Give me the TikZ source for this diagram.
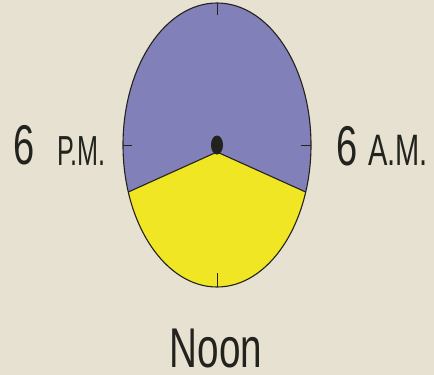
\documentclass[tikz,border=0pt]{standalone}
\usepackage{fontspec}
\setmainfont{Liberation Sans}
\usepackage{graphicx}
\definecolor{bg}{RGB}{231,225,210}
\definecolor{night}{RGB}{130,128,185}
\definecolor{day}{RGB}{240,230,35}
\definecolor{ink}{RGB}{35,35,30}
\tikzset{
  outline/.style={draw=ink, line width=1.1pt},
  tick/.style={draw=ink, line width=0.8pt},
  lbl/.style={inner sep=0pt, outer sep=0pt, text=ink},
}
\begin{document}
\begin{tikzpicture}[x=1pt,y=-1pt]
\fill[bg] (0,0) rectangle (434,375);
\useasboundingbox (0,0) rectangle (434,375);
% clock face
\coordinate (c) at (217,152);
\coordinate (l) at (128.3,192);
\coordinate (r) at (305.7,192);
\fill[night] (217,145) ellipse [x radius=94, y radius=142];
\begin{scope}
  \clip (217,145) ellipse [x radius=94, y radius=142];
  \fill[day] (l) -- (c) -- (r) -- (330,300) -- (100,300) -- cycle;
\end{scope}
\draw[outline] (l) -- (c) -- (r);
\draw[outline] (217,145) ellipse [x radius=94, y radius=142];
% ticks
\draw[tick] (217,3) -- (217,15);
\draw[tick] (217,273) -- (217,287);
\draw[tick] (123,145) -- (132,145);
\draw[tick] (301,145) -- (311,145);
% centre pin
\fill[ink] (217,145) ellipse [x radius=6, y radius=9.5];
% labels
\node[lbl, anchor=base west] (pm6) at (13.5,164) {\scalebox{0.68}[1]{\fontsize{56}{56}\selectfont 6}};
\node[lbl, anchor=base west] (pmtxt) at (57,165) {\scalebox{0.6}[1]{\fontsize{42}{42}\selectfont P.M.}};
\node[lbl, anchor=base west] (am6) at (336.5,165) {\scalebox{0.68}[1]{\fontsize{56}{56}\selectfont 6}};
\node[lbl, anchor=base west] (amtxt) at (368,165) {\scalebox{0.66}[1]{\fontsize{44}{44}\selectfont A.M.}};
\node[lbl, anchor=base] (noon) at (216,367) {\scalebox{0.69}[1]{\fontsize{56}{56}\selectfont Noon}};
\end{tikzpicture}
\end{document}
